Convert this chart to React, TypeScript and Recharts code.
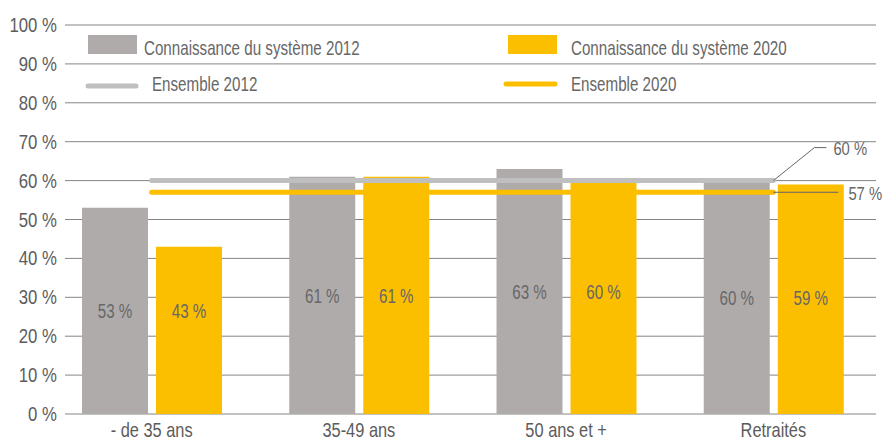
import { Bar, BarChart, CartesianGrid, LabelList, Legend, ReferenceLine, XAxis, YAxis } from 'recharts'

const categories = ['- de 35 ans', '35-49 ans', '50 ans et +', 'Retraités']
const seriesNames = ['Connaissance du système 2012', 'Connaissance du système 2020']
const values2012 = [53, 61, 63, 60]
const values2020 = [43, 61, 60, 59]
const ensembleNames = ['Ensemble 2012', 'Ensemble 2020']
const ensembleValues = [60, 57]
const yTicks = [0, 10, 20, 30, 40, 50, 60, 70, 80, 90, 100]

const GREY = '#afabab'
const YELLOW = '#fbbf00'
const LINE_GREY = '#bfbfbf'
const TEXT = '#676767'
const FONT = "'Liberation Sans', Arial, sans-serif"

const data = categories.map((name, i) => ({
  name,
  v2012: values2012[i],
  v2020: values2020[i],
}))

const pct = (v: number) => `${v} %`

// condensed text: regular font squeezed horizontally
const NText = ({ x, y, size, sx, anchor = 'start', fill = TEXT, dy, children }: any) => (
  <text
    transform={`translate(${x} ${y}) scale(${sx} 1)`}
    dy={dy}
    textAnchor={anchor}
    fontSize={size}
    fontFamily={FONT}
    fill={fill}
  >
    {children}
  </text>
)

const YTick = (props: any) => {
  const { y, payload } = props
  return (
    <NText x={57} y={y} dy="0.36em" size={19.5} sx={0.86} anchor="end" fill="#5c5c5c">
      {pct(payload.value)}
    </NText>
  )
}

const XTick = (props: any) => {
  const { x, payload } = props
  return (
    <NText x={x} y={437} size={20.5} sx={0.8} anchor="middle" fill="#5c5c5c">
      {payload.value}
    </NText>
  )
}

const label2012 = (props: any) => {
  const { x, y, width, height, value } = props
  return (
    <NText x={x + width / 2} y={y + height / 2} dy="0.36em" size={20.5} sx={0.74} anchor="middle">
      {pct(value)}
    </NText>
  )
}

// 2020 labels sit level with the 2012 label of the same group
const label2020 = (props: any) => {
  const { x, y, width, height, value, index } = props
  const bottom = y + height
  const cy = bottom - (height * (values2012[index] / values2020[index])) / 2
  return (
    <NText x={x + width / 2} y={cy} dy="0.36em" size={20.5} sx={0.74} anchor="middle">
      {pct(value)}
    </NText>
  )
}

const label60 = (props: any) => {
  const { viewBox, value } = props
  const ex = viewBox.x + viewBox.width
  const y = viewBox.y
  return (
    <g>
      <polyline points={`${ex},${y} ${ex + 41},${y - 33} ${ex + 53},${y - 33}`} fill="none" stroke="#666" strokeWidth={1} />
      <NText x={ex + 60} y={y - 32} dy="0.36em" size={18.5} sx={0.8}>
        {value}
      </NText>
    </g>
  )
}

const label57 = (props: any) => {
  const { viewBox, value } = props
  const ex = viewBox.x + viewBox.width
  const y = viewBox.y
  return (
    <g>
      <line x1={ex} y1={y} x2={ex + 65} y2={y} stroke="#666" strokeWidth={1} />
      <NText x={ex + 75} y={y + 1} dy="0.36em" size={18.5} sx={0.8}>
        {value}
      </NText>
    </g>
  )
}

const LegendBox = () => (
  <svg width={882} height={100} style={{ display: 'block', overflow: 'visible' }}>
    <rect x={88} y={35} width={49} height={19} fill={GREY} />
    <NText x={144} y={55} size={20.5} sx={0.74}>{seriesNames[0]}</NText>
    <rect x={508} y={35} width={49} height={19} fill={YELLOW} />
    <NText x={571} y={55} size={20.5} sx={0.74}>{seriesNames[1]}</NText>
    <line x1={88} y1={86} x2={136} y2={86} stroke={LINE_GREY} strokeWidth={5} strokeLinecap="round" />
    <NText x={152} y={91} size={20.5} sx={0.74}>{ensembleNames[0]}</NText>
    <line x1={506} y1={84} x2={555} y2={84} stroke={YELLOW} strokeWidth={5} strokeLinecap="round" />
    <NText x={571} y={91} size={20.5} sx={0.74}>{ensembleNames[1]}</NText>
  </svg>
)

export default function App() {
  return (
    <div style={{ position: 'absolute', left: 0, top: 0, background: '#fff' }}>
      <BarChart
        width={882}
        height={441}
        data={data}
        margin={{ top: 25, right: 5, bottom: 0, left: 0 }}
        barSize={66}
        barGap={8}
      >
        <CartesianGrid x={65} width={811} vertical={false} stroke="#858585" strokeWidth={1} />
        <XAxis dataKey="name" axisLine={false} tickLine={false} tick={<XTick />} height={27} interval={0} />
        <YAxis
          domain={[0, 100]}
          ticks={yTicks}
          axisLine={false}
          tickLine={false}
          tick={<YTick />}
          width={48}
          interval={0}
        />
        <Legend
          verticalAlign="middle"
          align="center"
          wrapperStyle={{ top: 0, left: 0, width: 882, height: 0 }}
          content={() => <LegendBox />}
        />
        <Bar dataKey="v2012" name={seriesNames[0]} fill={GREY} isAnimationActive={false}>
          <LabelList dataKey="v2012" content={label2012} />
        </Bar>
        <Bar dataKey="v2020" name={seriesNames[1]} fill={YELLOW} isAnimationActive={false}>
          <LabelList dataKey="v2020" content={label2020} />
        </Bar>
        <ReferenceLine
          segment={[
            { x: categories[0], y: ensembleValues[0] },
            { x: categories[categories.length - 1], y: ensembleValues[0] },
          ]}
          stroke={LINE_GREY}
          strokeWidth={5}
          strokeLinecap="round"
          label={{ value: pct(ensembleValues[0]), content: label60 }}
        />
        <ReferenceLine
          segment={[
            { x: categories[0], y: ensembleValues[1] },
            { x: categories[categories.length - 1], y: ensembleValues[1] },
          ]}
          stroke={YELLOW}
          strokeWidth={5}
          strokeLinecap="round"
          label={{ value: pct(ensembleValues[1]), content: label57 }}
        />
      </BarChart>
    </div>
  )
}
